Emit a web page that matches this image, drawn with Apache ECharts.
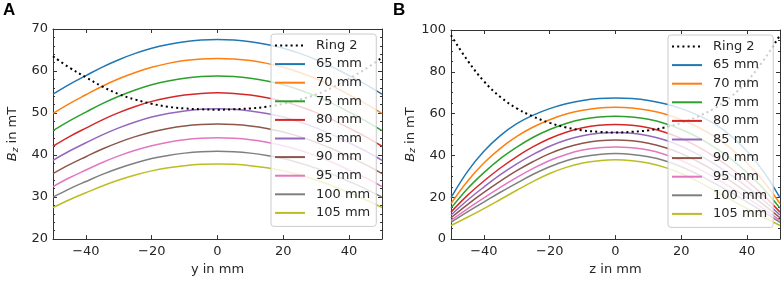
<!DOCTYPE html>
<html>
<head>
<meta charset="utf-8">
<script src="https://cdn.jsdelivr.net/npm/echarts@6/dist/echarts.min.js"></script>
<style>html,body{margin:0;padding:0;background:#fff;}#c{width:782px;height:281px;}</style>
</head>
<body>
<div id="c"></div>
<script>
// ---------- data ----------
const positions = [-50,-45,-40,-35,-30,-25,-20,-15,-10,-5,0,5,10,15,20,25,30,35,40,45,50];
const seriesNames = ['Ring 2','65 mm','70 mm','75 mm','80 mm','85 mm','90 mm','95 mm','100 mm','105 mm'];
const xTicks = [-40,-20,0,20,40];

// Panel A: Bz along y
const ring2A = [63.5,60.8,58.5,56.3,54.5,53.2,52.2,51.5,51.1,50.9,50.8,50.9,51.1,51.5,52.2,53.2,54.4,56.1,58.2,60.5,63.2];
const a65  = [54.50,56.84,58.92,60.94,62.69,64.19,65.42,66.33,66.98,67.37,67.50,67.37,66.98,66.33,65.42,64.19,62.69,60.94,58.92,56.84,54.50];
const a70  = [49.90,52.26,54.35,56.38,58.15,59.66,60.90,61.82,62.48,62.87,63.00,62.87,62.48,61.82,60.90,59.66,58.15,56.38,54.35,52.26,49.90];
const a75  = [45.80,48.14,50.22,52.24,53.99,55.49,56.72,57.63,58.28,58.67,58.80,58.67,58.28,57.63,56.72,55.49,53.99,52.24,50.22,48.14,45.80];
const a80  = [42.10,44.39,46.42,48.39,50.10,51.56,52.77,53.66,54.29,54.67,54.80,54.67,54.29,53.66,52.77,51.56,50.10,48.39,46.42,44.39,42.10];
const a85  = [38.75,40.96,42.92,44.81,46.47,47.88,49.04,49.90,50.51,50.88,51.00,50.88,50.51,49.90,49.04,47.88,46.47,44.81,42.92,40.96,38.75];
const a90  = [35.60,37.72,39.61,41.44,43.03,44.39,45.51,46.34,46.93,47.28,47.40,47.28,46.93,46.34,45.51,44.39,43.03,41.44,39.61,37.72,35.60];
const a95  = [32.50,34.59,36.44,38.24,39.81,41.14,42.24,43.06,43.64,43.98,44.10,43.98,43.64,43.06,42.24,41.14,39.81,38.24,36.44,34.59,32.50];
const a100 = [30.00,31.96,33.71,35.40,36.87,38.12,39.16,39.92,40.46,40.79,40.90,40.79,40.46,39.92,39.16,38.12,36.87,35.40,33.71,31.96,30.00];
const a105 = [27.50,29.37,31.04,32.65,34.05,35.25,36.24,36.96,37.48,37.80,37.90,37.80,37.48,36.96,36.24,35.25,34.05,32.65,31.04,29.37,27.50];

// Panel B: Bz along z
const ring2B = [97.5,85.5,75.5,68.0,62.5,58.6,55.6,53.4,52.0,51.3,51.0,51.3,52.0,53.4,55.6,58.6,62.5,68.0,75.5,85.5,97.5];
const b65  = [19.8,32.3,42.0,49.5,55.2,59.3,62.4,64.7,66.3,67.2,67.5,67.2,66.3,64.7,62.4,59.3,55.2,49.5,42.0,32.3,19.8];
const b70  = [17.0,27.7,36.4,43.4,49.1,53.6,57.1,59.8,61.6,62.7,63.0,62.7,61.6,59.8,57.1,53.6,49.1,43.4,36.4,27.7,17.0];
const b75  = [14.8,24.1,31.8,38.5,44.0,48.7,52.4,55.3,57.3,58.4,58.8,58.4,57.3,55.3,52.4,48.7,44.0,38.5,31.8,24.1,14.8];
const b80  = [12.9,20.9,27.8,34.0,39.5,44.2,48.1,51.1,53.2,54.4,54.8,54.4,53.2,51.1,48.1,44.2,39.5,34.0,27.8,20.9,12.9];
const b85  = [11.5,18.6,24.9,30.8,36.0,40.5,44.4,47.4,49.4,50.6,51.0,50.6,49.4,47.4,44.4,40.5,36.0,30.8,24.9,18.6,11.5];
const b90  = [10.2,16.5,22.3,27.7,32.7,37.1,40.9,43.8,45.8,47.0,47.4,47.0,45.8,43.8,40.9,37.1,32.7,27.7,22.3,16.5,10.2];
const b95  = [9.0,14.5,19.7,24.7,29.5,33.8,37.6,40.5,42.6,43.7,44.1,43.7,42.6,40.5,37.6,33.8,29.5,24.7,19.7,14.5,9.0];
const b100 = [8.0,13.0,17.7,22.4,26.8,31.0,34.6,37.5,39.4,40.5,40.9,40.5,39.4,37.5,34.6,31.0,26.8,22.4,17.7,13.0,8.0];
const b105 = [6.5,10.45,14.6,18.95,23.35,27.6,31.35,34.3,36.35,37.5,37.9,37.5,36.35,34.3,31.35,27.6,23.35,18.95,14.6,10.45,6.5];

const colors = ['#000000','#1f77b4','#ff7f0e','#2ca02c','#d62728','#9467bd','#8c564b','#e377c2','#7f7f7f','#bcbd22'];
const panelA = [ring2A,a65,a70,a75,a80,a85,a90,a95,a100,a105];
const panelB = [ring2B,b65,b70,b75,b80,b85,b90,b95,b100,b105];

// ---------- styling ----------
const FONT = 'DejaVu Sans';
const TXT = '#262626';
const AX = '#333333';
const minus = v => String(v).replace('-', '\u2212');

function xAxes(gi, name){
  const common = {
    type:'value', gridIndex:gi, min:-50, max:50,
    splitLine:{show:false},
    axisLine:{show:true, onZero:false, lineStyle:{color:AX, width:1}},
    axisTick:{show:true, inside:true, length:4, customValues:xTicks, lineStyle:{color:AX, width:1}}
  };
  return [
    Object.assign({}, common, {
      position:'bottom',
      axisLabel:{customValues:xTicks, formatter:minus, color:TXT, fontSize:13, fontFamily:FONT, margin:6},
      name:name, nameLocation:'middle', nameGap:23,
      nameTextStyle:{color:TXT, fontSize:13, fontFamily:FONT}
    }),
    Object.assign({}, common, {position:'top', axisLabel:{show:false}})
  ];
}
function yAxes(gi, mn, mx, step, minorSplit){
  const common = {
    type:'value', gridIndex:gi, min:mn, max:mx, interval:step,
    splitLine:{show:false},
    axisLine:{show:true, onZero:false, lineStyle:{color:AX, width:1}},
    axisTick:{show:true, inside:true, length:4, lineStyle:{color:AX, width:1}},
    minorTick:{show:true, splitNumber:minorSplit, length:2, lineStyle:{color:AX, width:1}},
    minorSplitLine:{show:false}
  };
  return [
    Object.assign({}, common, {
      position:'left',
      axisLabel:{color:TXT, fontSize:13, fontFamily:FONT, margin:5},
      name:'{b|B}{s|z} in mT', nameLocation:'middle', nameGap:33, nameRotate:90,
      nameTextStyle:{color:TXT, fontSize:13, fontFamily:FONT,
        rich:{b:{fontStyle:'italic', fontSize:13, fontFamily:FONT, color:TXT},
              s:{fontStyle:'italic', fontSize:9, fontFamily:FONT, color:TXT, padding:[5,0,0,0]}}}
    }),
    Object.assign({}, common, {position:'right', axisLabel:{show:false}})
  ];
}

const series = [];
[panelA, panelB].forEach((panel, p) => {
  panel.forEach((vals, k) => {
    series.push({
      type:'line', name:seriesNames[k], xAxisIndex:p*2, yAxisIndex:p*2,
      data: positions.map((x,i)=>[x, vals[i]]),
      symbol:'none', smooth:0.4, clip:true,
      lineStyle: k===0 ? {color:colors[k], width:2, type:[2,3.2]} : {color:colors[k], width:1.5},
      itemStyle:{color:colors[k]},
      z: k===0 ? 3 : 2
    });
  });
});

function legend(left, top){
  return {
    orient:'vertical', left:left, top:top,
    data:seriesNames,
    itemWidth:30, itemHeight:14, itemGap:5.6,
    padding:[5,6,7,3],
    backgroundColor:'rgba(255,255,255,0.8)',
    borderColor:'#cccccc', borderWidth:1, borderRadius:3,
    itemStyle:{opacity:0},
    textStyle:{color:TXT, fontSize:13, fontFamily:FONT, padding:[0,0,0,6]},
    selectedMode:false
  };
}

const chart = echarts.init(document.getElementById('c'), null, {renderer:'canvas'});
chart.setOption({
  animation:false,
  backgroundColor:'#ffffff',
  title:[
    {text:'A', left:3, top:2, padding:0, textStyle:{fontSize:17, fontWeight:'bold', fontFamily:'Liberation Sans', color:'#000'}},
    {text:'B', left:393, top:2, padding:0, textStyle:{fontSize:17, fontWeight:'bold', fontFamily:'Liberation Sans', color:'#000'}}
  ],
  grid:[
    {left:53, top:29, width:329, height:214, show:false},
    {left:451, top:30, width:329, height:212, show:false}
  ],
  xAxis:[...xAxes(0,'y in mm'), ...xAxes(1,'z in mm')],
  yAxis:[...yAxes(0,20,70,10,5), ...yAxes(1,0,100,20,4)],
  legend:[legend(271,34), legend(668,35)],
  series:series
});
</script>
</body>
</html>
